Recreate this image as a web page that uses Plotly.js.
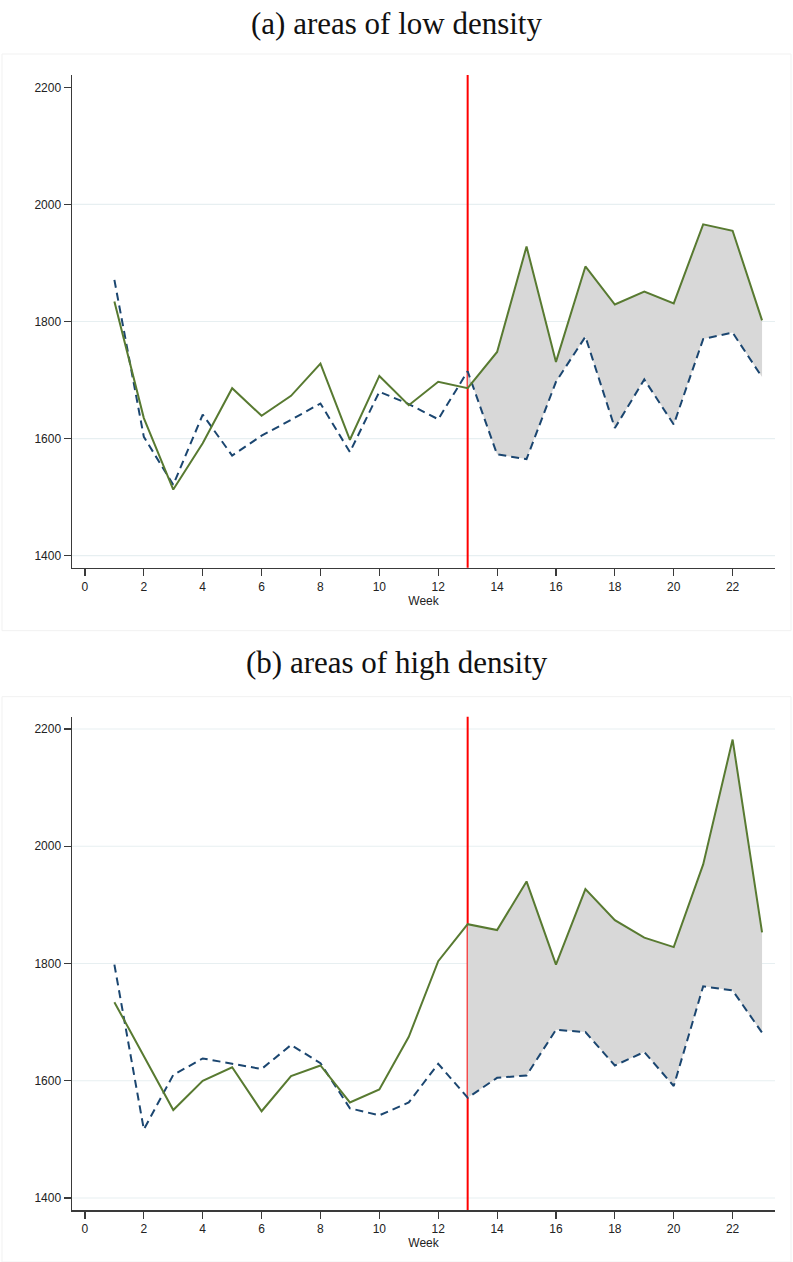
<!DOCTYPE html>
<html>
<head>
<meta charset="utf-8">
<script src="https://cdn.plot.ly/plotly-3.0.1.min.js"></script>
<style>
  html, body { margin: 0; padding: 0; background: #ffffff; }
  #chart { width: 793px; height: 1262px; }
</style>
</head>
<body>
<div id="chart"></div>
<script>
// Weekly series, weeks 1-23; the policy break falls in week 13.
const weeks = [1, 2, 3, 4, 5, 6, 7, 8, 9, 10, 11, 12, 13, 14, 15, 16, 17, 18, 19, 20, 21, 22, 23];
const breakWeek = 13;

// (a) areas of low density
const lowSolid  = [1834, 1635, 1513, 1592, 1686, 1639, 1673, 1728, 1598, 1707, 1657, 1697, 1686,
                   1748, 1928, 1731, 1894, 1829, 1851, 1831, 1966, 1955, 1802];
const lowDashed = [1871, 1603, 1521, 1641, 1571, 1605, 1632, 1660, 1577, 1680, 1659, 1633, 1715,
                   1573, 1565, 1697, 1774, 1618, 1701, 1624, 1770, 1781, 1705];

// (b) areas of high density
const highSolid  = [1734, 1643, 1550, 1600, 1623, 1548, 1608, 1626, 1563, 1585, 1675, 1804, 1867,
                    1857, 1940, 1798, 1927, 1874, 1844, 1828, 1969, 2182, 1853];
const highDashed = [1798, 1517, 1610, 1638, 1629, 1620, 1661, 1630, 1553, 1541, 1563, 1629, 1571,
                    1605, 1609, 1687, 1683, 1626, 1649, 1591, 1761, 1754, 1682];

const panelTitles = ['(a) areas of low density', '(b) areas of high density'];
const xTickVals = [0, 2, 4, 6, 8, 10, 12, 14, 16, 18, 20, 22];
const yTickVals = [1400, 1600, 1800, 2000, 2200];
const gridLevels = [[1400, 1600, 1800, 2000], [1400, 1600, 1800, 2000, 2200]];

const GREEN = '#587a31';
const NAVY = '#1b4670';
const SHADE = '#d8d8d8';
const AXIS = '#3a3a3a';
const GRID = '#e7eff1';

function panelTraces(solid, dashed, xa, ya) {
  const from = weeks.indexOf(breakWeek);
  const postWeeks = weeks.slice(from);
  return [
    // shaded gap between the two series after the break
    { x: postWeeks, y: dashed.slice(from), xaxis: xa, yaxis: ya, type: 'scatter', mode: 'lines',
      line: { width: 0, color: SHADE }, hoverinfo: 'skip', showlegend: false },
    { x: postWeeks, y: solid.slice(from), xaxis: xa, yaxis: ya, type: 'scatter', mode: 'lines',
      fill: 'tonexty', fillcolor: SHADE, line: { width: 0, color: SHADE },
      hoverinfo: 'skip', showlegend: false },
    { x: weeks, y: dashed, xaxis: xa, yaxis: ya, type: 'scatter', mode: 'lines',
      line: { color: NAVY, width: 2, dash: '8px,5px' }, showlegend: false },
    { x: weeks, y: solid, xaxis: xa, yaxis: ya, type: 'scatter', mode: 'lines',
      line: { color: GREEN, width: 2 }, showlegend: false }
  ];
}

const data = [].concat(
  panelTraces(lowSolid, lowDashed, 'x', 'y'),
  panelTraces(highSolid, highDashed, 'x2', 'y2')
);

const W = 793, H = 1262;
const xDomain = [72 / W, 775 / W];
const yDomains = [[1 - 567.7 / H, 1 - 75 / H], [1 - 1210 / H, 1 - 716.7 / H]];

function xAxis(domain, anchor) {
  return {
    domain: domain, anchor: anchor, range: [-0.44, 23.44],
    tickvals: xTickVals, ticks: 'outside', ticklen: 7, tickwidth: 1.2, tickcolor: AXIS,
    showline: true, linecolor: AXIS, linewidth: 1.5, showgrid: false, zeroline: false,
    tickfont: { family: 'Liberation Sans, Arial, sans-serif', size: 12, color: '#222' },
    title: { text: 'Week', standoff: 1,
             font: { family: 'Liberation Sans, Arial, sans-serif', size: 12, color: '#222' } },
    fixedrange: true
  };
}
function yAxis(domain, anchor) {
  return {
    domain: domain, anchor: anchor, range: [1379.5, 2221],
    tickvals: yTickVals, ticks: 'outside', ticklen: 7, tickwidth: 1.2, tickcolor: AXIS,
    showline: true, linecolor: AXIS, linewidth: 1.5, showgrid: false, zeroline: false,
    tickfont: { family: 'Liberation Sans, Arial, sans-serif', size: 12, color: '#222' },
    fixedrange: true
  };
}

const shapes = [];
// faint panel frames
shapes.push({ type: 'rect', xref: 'paper', yref: 'paper', x0: 2 / W, x1: 791 / W,
              y0: 1 - 630.7 / H, y1: 1 - 54 / H, line: { color: '#f1f1f1', width: 1 }, layer: 'below' });
shapes.push({ type: 'rect', xref: 'paper', yref: 'paper', x0: 2 / W, x1: 791 / W,
              y0: 0, y1: 1 - 696.7 / H, line: { color: '#f1f1f1', width: 1 }, layer: 'below' });
// horizontal gridlines
[['x', 'y'], ['x2', 'y2']].forEach(function (refs, i) {
  gridLevels[i].forEach(function (v) {
    shapes.push({ type: 'line', xref: refs[0] + ' domain', yref: refs[1], x0: 0, x1: 1, y0: v, y1: v,
                  line: { color: GRID, width: 1.2 }, layer: 'below' });
  });
  // vertical marker at the break week
  shapes.push({ type: 'line', xref: refs[0], yref: refs[1] + ' domain', x0: breakWeek, x1: breakWeek,
                y0: 0, y1: 1, line: { color: '#ff0000', width: 2 }, layer: 'below' });
});

const titleFont = { family: 'Liberation Serif, Times New Roman, serif', size: 31, color: '#111' };
const annotations = [
  { text: panelTitles[0], xref: 'paper', yref: 'paper', x: 0.5, y: 1 - 23 / H,
    xanchor: 'center', yanchor: 'middle', showarrow: false, font: titleFont },
  { text: panelTitles[1], xref: 'paper', yref: 'paper', x: 0.5, y: 1 - 663 / H,
    xanchor: 'center', yanchor: 'middle', showarrow: false, font: titleFont }
];

const layout = {
  width: W, height: H,
  margin: { l: 0, r: 0, t: 0, b: 0 },
  paper_bgcolor: '#ffffff', plot_bgcolor: '#ffffff',
  showlegend: false,
  xaxis: xAxis(xDomain, 'y'),
  yaxis: yAxis(yDomains[0], 'x'),
  xaxis2: xAxis(xDomain, 'y2'),
  yaxis2: yAxis(yDomains[1], 'x2'),
  shapes: shapes,
  annotations: annotations
};

Plotly.newPlot('chart', data, layout, { displayModeBar: false, staticPlot: true });
</script>
</body>
</html>
